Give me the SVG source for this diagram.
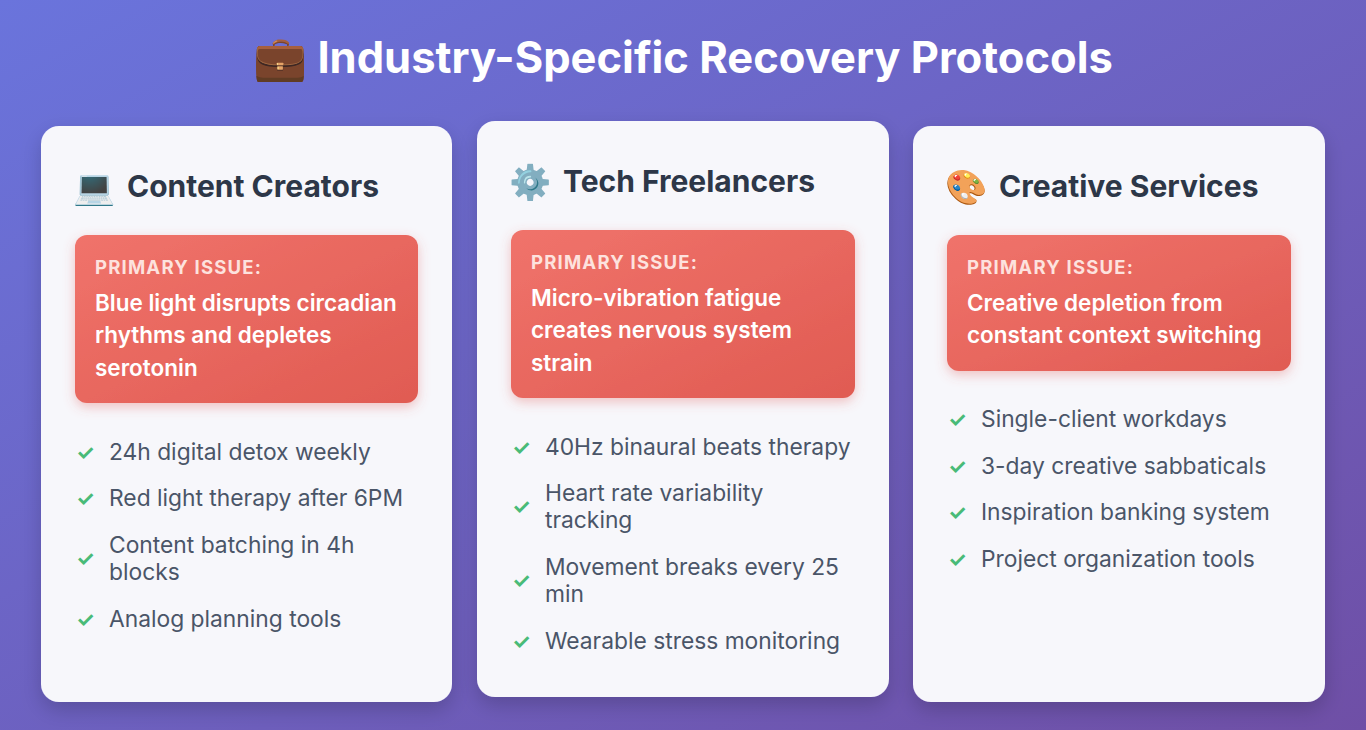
<svg xmlns="http://www.w3.org/2000/svg" width="1366" height="730" viewBox="0 0 1366 730">
<defs>
<linearGradient id="bg" x1="0" y1="0" x2="1" y2="1"><stop offset="0" stop-color="#6a74dc"/><stop offset="1" stop-color="#6f4fa6"/></linearGradient>
<linearGradient id="red" x1="0" y1="0" x2="1" y2="1"><stop offset="0" stop-color="#f0736b"/><stop offset="1" stop-color="#e05b52"/></linearGradient>
<filter id="sh" x="-10%" y="-10%" width="120%" height="120%"><feDropShadow dx="0" dy="8" stdDeviation="10" flood-color="#000" flood-opacity="0.18"/></filter>
<filter id="sh2" x="-10%" y="-10%" width="120%" height="130%"><feDropShadow dx="0" dy="4" stdDeviation="6" flood-color="#e05b52" flood-opacity="0.35"/></filter>
</defs>
<style>
text{font-family:Inter,"Open Sans","Noto Sans",sans-serif}
.card{fill:#f7f7fb;filter:url(#sh)}
.box{fill:url(#red);filter:url(#sh2)}
.h{font-size:30px;font-weight:700;fill:#2d3748}
.pi{font-size:18.5px;font-weight:700;fill:#fde2de;letter-spacing:1.2px}
.bt{font-size:22.5px;font-weight:600;fill:#fff}
.it{font-size:22.8px;fill:#4a5568}
.ck{font-size:21px;font-weight:700;fill:#48bb78}
.em{font-size:34px}
</style>
<rect width="1366" height="730" fill="url(#bg)"/>
<text x="683" y="73" text-anchor="middle" font-size="43.5" font-weight="700" fill="#fff">💼 Industry-Specific Recovery Protocols</text>
<g id="connectors"/>
<g id="card-content-creators">
<rect class="card" x="41" y="126" width="411" height="576" rx="18"/>
<text class="em" x="73" y="199">💻</text>
<text class="h" x="127" y="197">Content Creators</text>
<rect class="box" x="75" y="235" width="343" height="168" rx="12"/>
<text class="pi" x="95" y="274">PRIMARY ISSUE:</text>
<text class="bt" x="95" y="311">Blue light disrupts circadian</text>
<text class="bt" x="95" y="343">rhythms and depletes</text>
<text class="bt" x="95" y="376">serotonin</text>
<text class="ck" x="76" y="460">✓</text><text class="it" x="109" y="460">24h digital detox weekly</text>
<text class="ck" x="76" y="506">✓</text><text class="it" x="109" y="506">Red light therapy after 6PM</text>
<text class="ck" x="76" y="566">✓</text><text class="it" x="109" y="553">Content batching in 4h</text><text class="it" x="109" y="580">blocks</text>
<text class="ck" x="76" y="627">✓</text><text class="it" x="109" y="627">Analog planning tools</text>
</g>
<g id="card-tech-freelancers">
<rect class="card" x="477" y="121" width="412" height="576" rx="18"/>
<text class="em" x="509" y="194">⚙️</text>
<text class="h" x="563" y="192">Tech Freelancers</text>
<rect class="box" x="511" y="230" width="344" height="168" rx="12"/>
<text class="pi" x="531" y="269">PRIMARY ISSUE:</text>
<text class="bt" x="531" y="306">Micro-vibration fatigue</text>
<text class="bt" x="531" y="338">creates nervous system</text>
<text class="bt" x="531" y="371">strain</text>
<text class="ck" x="512" y="455">✓</text><text class="it" x="545" y="455">40Hz binaural beats therapy</text>
<text class="ck" x="512" y="514">✓</text><text class="it" x="545" y="501">Heart rate variability</text><text class="it" x="545" y="528">tracking</text>
<text class="ck" x="512" y="588">✓</text><text class="it" x="545" y="575">Movement breaks every 25</text><text class="it" x="545" y="602">min</text>
<text class="ck" x="512" y="649">✓</text><text class="it" x="545" y="649">Wearable stress monitoring</text>
</g>
<g id="card-creative-services">
<rect class="card" x="913" y="126" width="412" height="576" rx="18"/>
<text class="em" x="945" y="199">🎨</text>
<text class="h" x="999" y="197">Creative Services</text>
<rect class="box" x="947" y="235" width="344" height="136" rx="12"/>
<text class="pi" x="967" y="274">PRIMARY ISSUE:</text>
<text class="bt" x="967" y="311">Creative depletion from</text>
<text class="bt" x="967" y="343">constant context switching</text>
<text class="ck" x="948" y="427">✓</text><text class="it" x="981" y="427">Single-client workdays</text>
<text class="ck" x="948" y="474">✓</text><text class="it" x="981" y="474">3-day creative sabbaticals</text>
<text class="ck" x="948" y="520">✓</text><text class="it" x="981" y="520">Inspiration banking system</text>
<text class="ck" x="948" y="567">✓</text><text class="it" x="981" y="567">Project organization tools</text>
</g>
</svg>
